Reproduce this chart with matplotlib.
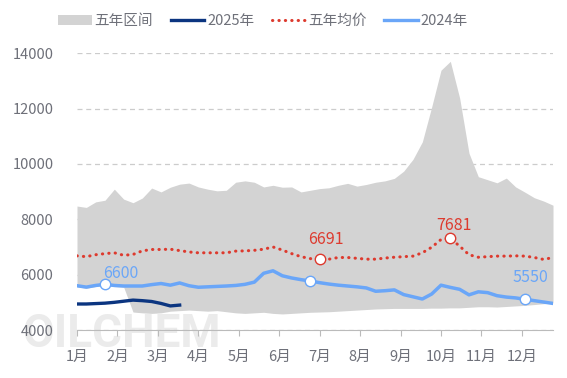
import matplotlib
matplotlib.use('Agg')
import numpy as np
import matplotlib.pyplot as plt
from matplotlib.patches import Patch
from matplotlib.lines import Line2D

plt.rcParams['font.family'] = ['Noto Sans CJK SC', 'DejaVu Sans']

# weekly data, week 0 = start of January
weeks = np.arange(52)
months = ['1月', '2月', '3月', '4月', '5月', '6月', '7月', '8月', '9月', '10月', '11月', '12月']

range_high = [8480, 8430, 8630, 8690, 9090, 8730, 8600, 8770, 9130, 8990,
              9160, 9270, 9310, 9170, 9090, 9030, 9050, 9340, 9390, 9340,
              9170, 9230, 9160, 9170, 8990, 9050, 9110, 9140, 9230, 9300,
              9200, 9260, 9340, 9390, 9480, 9740, 10170, 10800, 12060, 13390,
              13710, 12380, 10390, 9540, 9430, 9320, 9490, 9170, 8980, 8780,
              8660, 8510]
range_low = [5560, 5510, 5570, 5610, 5570, 5550, 4650, 4620, 4600, 4620,
             4680, 4700, 4720, 4700, 4680, 4700, 4660, 4620, 4600, 4620,
             4640, 4600, 4580, 4600, 4620, 4640, 4650, 4660, 4680, 4700,
             4720, 4740, 4760, 4770, 4780, 4780, 4780, 4780, 4790, 4790,
             4800, 4800, 4820, 4840, 4840, 4830, 4850, 4870, 4890, 4920,
             4950, 4980]
avg_5y = [6680, 6650, 6720, 6760, 6790, 6700, 6730, 6860, 6910, 6910,
          6920, 6870, 6820, 6790, 6790, 6790, 6790, 6850, 6860, 6880,
          6920, 7000, 6890, 6760, 6650, 6580, 6550, 6560, 6620, 6620,
          6590, 6560, 6560, 6600, 6630, 6650, 6670, 6790, 6990, 7270,
          7310, 7030, 6720, 6630, 6650, 6670, 6670, 6680, 6670, 6620,
          6550, 6620]
y2024 = [5600, 5550, 5610, 5650, 5610, 5590, 5590, 5590, 5640, 5680,
         5620, 5700, 5600, 5545, 5560, 5575, 5590, 5610, 5650, 5730,
         6050, 6140, 5960, 5880, 5820, 5770, 5710, 5660, 5620, 5590,
         5560, 5520, 5400, 5420, 5450, 5280, 5200, 5120, 5300, 5620,
         5540, 5470, 5270, 5380, 5350, 5240, 5190, 5160, 5110, 5060,
         5010, 4960]
y2025 = [4940, 4940, 4955, 4970, 5000, 5040, 5080, 5060, 5030, 4960, 4870, 4900]

# labelled points: (week, text, offset px)
labels_2024 = [(3, '6600', (16, 11)), (25, None, None), (48, '5550', (5, 22))]
labels_avg = [(26, '6691', (6, 20)), (40, '7681', (4, 13))]

c_range = '#d3d3d3'
c_2025 = '#0b3580'
c_avg = '#dd3a2e'
c_2024 = '#6aa6f8'
c_text = '#6e7079'

fig = plt.figure(figsize=(5.67, 3.78), dpi=100)
fig.text(22 / 567, 1 - 347 / 378, 'OILCHEM', fontsize=33, fontweight='bold',
         color='#ebebeb', family='Roboto', va='baseline', zorder=-5)
ax = fig.add_axes([77 / 567, 48 / 378, 476 / 567, (330 - 53.3) / 378])
ax.patch.set_alpha(0)

ax.fill_between(weeks, range_low, range_high, color=c_range, lw=0, zorder=2)
ax.plot(weeks, avg_5y, color=c_avg, lw=2.2, ls=(0, (0.1, 2.0)),
        dash_capstyle='round', zorder=4)
ax.plot(weeks, y2024, color=c_2024, lw=2.5, solid_joinstyle='round', zorder=5)
ax.plot(np.arange(len(y2025)), y2025, color=c_2025, lw=2.4,
        solid_joinstyle='round', zorder=6)

px = 0.72
for w, txt, off in labels_2024:
    ax.plot(w, y2024[w], 'o', ms=7.5, mfc='white', mec=c_2024, mew=1, zorder=7)
    if txt:
        ax.annotate(txt, (w, y2024[w]), xytext=(off[0] * px, off[1] * px),
                    textcoords='offset points', ha='center', va='center',
                    fontsize=11.5, color=c_2024, zorder=8)
for w, txt, off in labels_avg:
    ax.plot(w, avg_5y[w], 'o', ms=7.5, mfc='white', mec=c_avg, mew=1, zorder=7)
    ax.annotate(txt, (w, avg_5y[w]), xytext=(off[0] * px, off[1] * px),
                textcoords='offset points', ha='center', va='center',
                fontsize=11.5, color=c_avg, zorder=8)

ax.set_xlim(0, 51)
ax.set_ylim(4000, 14000)
ax.set_yticks(np.arange(4000, 14001, 2000))
ax.set_xticks([m * 52 / 12 for m in range(12)])
ax.set_xticklabels(months)
ax.grid(axis='y', color='#cccccc', ls=(0, (4, 3)), lw=0.9, zorder=1)
ax.set_axisbelow(True)
for s in ['left', 'right', 'top']:
    ax.spines[s].set_visible(False)
ax.spines['bottom'].set_color('#bbbbbb')
ax.tick_params(axis='y', length=0, pad=17, labelsize=10.5, labelcolor=c_text)
ax.tick_params(axis='x', length=4, color='#bbbbbb', pad=10, labelsize=10.5,
               labelcolor=c_text)

handles = [Patch(facecolor=c_range, edgecolor='none'),
           Line2D([], [], color=c_2025, lw=2.4),
           Line2D([], [], color=c_avg, lw=2.2, ls=(0, (0.1, 2.0)), dash_capstyle='round'),
           Line2D([], [], color=c_2024, lw=2.4)]
fig.legend(handles, ['五年区间', '2025年', '五年均价', '2024年'],
           loc='center', bbox_to_anchor=(263 / 567, 1 - 21 / 378), ncol=4,
           frameon=False, fontsize=10.5, labelcolor=c_text, handlelength=2.3,
           handleheight=0.7, handletextpad=0.2, columnspacing=1.2)

fig.savefig('out.png', dpi=100)
